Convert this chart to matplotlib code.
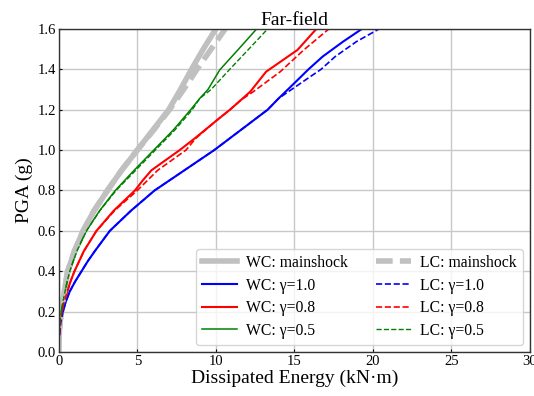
"""
Far-field PGA vs dissipated energy
"""
import matplotlib
matplotlib.use("Agg")
import matplotlib.pyplot as plt

# mainshock curves
pga_main = [0, 0.05, 0.1, 0.15, 0.2, 0.25, 0.3, 0.35, 0.4, 0.5, 0.6, 0.7, 0.8, 0.9,
            1.0, 1.1, 1.2, 1.3, 1.4, 1.5, 1.6]
e_wc_main = [0, 0.01, 0.04, 0.09, 0.17, 0.26, 0.36, 0.46, 0.57, 1.0, 1.55, 2.25, 3.1, 4.0,
             5.0, 6.0, 7.0, 7.75, 8.45, 9.2, 10.0]
e_lc_main = [0, 0.01, 0.04, 0.09, 0.17, 0.26, 0.36, 0.46, 0.57, 1.0, 1.55, 2.25, 3.1, 4.0,
             5.0, 6.05, 7.05, 7.95, 8.8, 9.7, 10.6]

# gamma = 1.0
pga_g10 = [0, 0.05, 0.1, 0.15, 0.2, 0.25, 0.3, 0.35, 0.4, 0.45, 0.5, 0.6, 0.7, 0.8, 0.9,
           1.0, 1.1, 1.2, 1.256, 1.339, 1.4, 1.463, 1.537, 1.6]
e_wc_g10 = [0, 0.01, 0.05, 0.14, 0.27, 0.45, 0.7, 1.05, 1.45, 1.85, 2.3, 3.25, 4.6, 6.1, 8.0,
            9.9, 11.6, 13.3, 14.0, 15.1, 15.9, 16.8, 18.1, 19.3]
e_lc_g10 = [0, 0.01, 0.05, 0.14, 0.27, 0.45, 0.7, 1.05, 1.45, 1.85, 2.3, 3.25, 4.6, 6.1, 8.0,
            9.9, 11.6, 13.3, 14.0, 15.55, 16.7, 17.6, 18.95, 20.4]

# gamma = 0.8
pga_g08 = [0, 0.05, 0.1, 0.15, 0.2, 0.25, 0.3, 0.35, 0.4, 0.5, 0.6, 0.7, 0.8, 0.85, 0.9,
           1.0, 1.058, 1.15, 1.2, 1.248, 1.29, 1.388, 1.496, 1.6]
e_wc_g08 = [0, 0.01, 0.04, 0.1, 0.2, 0.35, 0.55, 0.75, 1.0, 1.6, 2.4, 3.5, 4.85, 5.35, 5.9,
            7.7, 8.66, 10.1, 10.9, 11.6, 12.2, 13.2, 15.2, 16.4]
e_lc_g08 = [0, 0.01, 0.04, 0.1, 0.2, 0.35, 0.55, 0.75, 1.0, 1.6, 2.4, 3.55, 5.0, 5.65, 6.3,
            8.1, 8.72, 10.1, 10.9, 11.6, 12.4, 14.1, 15.6, 17.2]

# gamma = 0.5
pga_g05 = [0, 0.05, 0.1, 0.15, 0.2, 0.25, 0.3, 0.35, 0.4, 0.5, 0.6, 0.7, 0.8, 0.9,
           1.0, 1.1, 1.2, 1.256, 1.3, 1.397, 1.5, 1.6]
e_wc_g05 = [0, 0.01, 0.03, 0.08, 0.16, 0.27, 0.4, 0.54, 0.7, 1.15, 1.76, 2.6, 3.6, 4.8,
            6.05, 7.3, 8.4, 8.98, 9.5, 10.25, 11.45, 12.6]
e_lc_g05 = [0, 0.01, 0.03, 0.08, 0.16, 0.27, 0.4, 0.54, 0.7, 1.15, 1.76, 2.62, 3.65, 4.9,
            6.15, 7.4, 8.5, 8.98, 9.7, 10.85, 12.1, 13.3]

plt.rcParams['font.family'] = ['Liberation Serif', 'DejaVu Serif']


def main():
    fig = plt.figure(figsize=(5.34, 3.96), dpi=100)
    ax = fig.add_axes([0.110, 0.111, 0.8825, 0.816])

    gray = '#c0c0c0'
    ax.plot(e_wc_main, pga_main, color=gray, lw=4, label='WC: mainshock')
    ax.plot(e_wc_g10, pga_g10, color='blue', lw=1.5, label='WC: γ=1.0')
    ax.plot(e_wc_g08, pga_g08, color='red', lw=1.5, label='WC: γ=0.8')
    ax.plot(e_wc_g05, pga_g05, color='green', lw=1.1, label='WC: γ=0.5')
    ax.plot(e_lc_main, pga_main, color=gray, lw=4, ls=(0, (3, 1.3)), label='LC: mainshock')
    ax.plot(e_lc_g10, pga_g10, color='blue', lw=1.2, ls='--', label='LC: γ=1.0')
    ax.plot(e_lc_g08, pga_g08, color='red', lw=1.2, ls='--', label='LC: γ=0.8')
    ax.plot(e_lc_g05, pga_g05, color='green', lw=1.0, ls='--', label='LC: γ=0.5')

    ax.set_xlim(0, 30)
    ax.set_ylim(0, 1.6)
    ax.set_xticks([0, 5, 10, 15, 20, 25, 30])
    ax.set_yticks([0.0, 0.2, 0.4, 0.6, 0.8, 1.0, 1.2, 1.4, 1.6])
    ax.set_yticklabels([f"{v:.1f}" for v in ax.get_yticks()])
    ax.grid(True, color='#c8c8c8', lw=1.0)
    ax.set_axisbelow(True)
    ax.tick_params(direction='in', labelsize=10.5, length=2, pad=2)
    for s in ax.spines.values():
        s.set_color('#333333')
        s.set_linewidth(1.0)

    ax.set_xlabel('Dissipated Energy (kN·m)', fontsize=14, labelpad=1)
    ax.set_ylabel('PGA (g)', fontsize=14, labelpad=3)
    ax.set_title('Far-field', fontsize=14, pad=2)

    ax.legend(loc='lower right', ncol=2, fontsize=11.3, handlelength=2.2,
              handletextpad=0.6, columnspacing=1.8, labelspacing=0.42,
              borderaxespad=0.45, borderpad=0.4,
              framealpha=0.8, edgecolor='#cccccc')

    fig.savefig("out.png", dpi=100)
    plt.close(fig)


if __name__ == '__main__':
    main()
